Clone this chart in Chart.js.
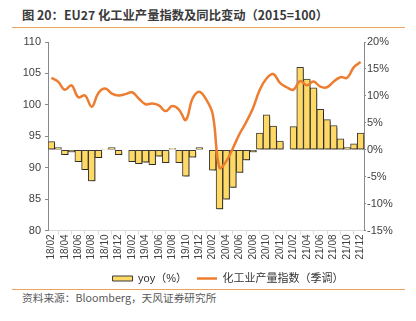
<!DOCTYPE html>
<html>
<head>
<meta charset="utf-8">
<script src="https://cdn.jsdelivr.net/npm/chart.js@4"></script>
<style>
  html, body { margin: 0; padding: 0; background: #fff; }
  body { width: 416px; height: 321px; position: relative; overflow: hidden; font-family: 'Liberation Sans', 'Noto Sans CJK SC', sans-serif; }
  #title { position: absolute; left: 22px; top: 6px; font-size: 12.3px; font-weight: bold; color: #3a3a3a; white-space: nowrap; font-family: 'Noto Sans CJK SC', sans-serif; }
  .rule { position: absolute; left: 12px; width: 393px; height: 1px; background: #eda35e; }
  #source { position: absolute; left: 22px; top: 290px; font-size: 10.7px; color: #595959; white-space: nowrap; font-family: 'Noto Sans CJK SC', sans-serif; }
  #wrap { position: absolute; left: 0; top: 30px; width: 416px; height: 280px; }
</style>
</head>
<body>
<div id="title">图 20：EU27 化工业产量指数及同比变动（2015=100）</div>
<div class="rule" style="top:27px"></div>
<div class="rule" style="top:289px"></div>
<div id="source">资料来源：Bloomberg，天风证券研究所</div>
<div id="wrap"><canvas id="chart"></canvas></div>
<script>
// months shown on the x axis (Jan values of yoy are blank in the source)
const months = [
  '18/02','18/03','18/04','18/05','18/06','18/07','18/08','18/09','18/10','18/11','18/12',
  '19/01','19/02','19/03','19/04','19/05','19/06','19/07','19/08','19/09','19/10','19/11','19/12',
  '20/01','20/02','20/03','20/04','20/05','20/06','20/07','20/08','20/09','20/10','20/11','20/12',
  '21/01','21/02','21/03','21/04','21/05','21/06','21/07','21/08','21/09','21/10','21/11','21/12'
];

// yoy (%), right axis
const yoy = [
  1.5, 0.4, -0.9, -0.4, -2.2, -3.7, -5.8, -1.5, 0.1, 0.4, -0.9,
  null, -2.2, -2.6, -2.3, -2.8, -1.2, -2.4, 0.2, -2.4, -4.9, -1.4, 0.4,
  null, -3.8, -11.0, -9.2, -7.0, -4.2, -1.9, -0.4, 3.1, 6.5, 4.4, 1.6,
  null, 4.3, 15.3, 13.1, 11.5, 7.5, 5.6, 4.5, 2.0, 0.4, 1.1, 3.1
];

// chemical production index, seasonally adjusted (left axis)
const prodIndex = [
  104.3, 103.7, 102.4, 103.1, 101.2, 101.5, 99.7, 101.9, 102.6, 101.8, 101.5,
  101.7, 102.0, 101.0, 100.1, 100.2, 99.9, 99.0, 99.8, 99.2, 97.6, 101.0, 102.1,
  100.9, 98.5, 90.0, 91.0, 93.1, 95.4, 97.3, 99.5, 102.4, 104.2, 104.9, 103.5,
  102.8, 102.4, 103.8, 103.1, 103.7, 102.9, 102.8, 103.7, 104.4, 104.3, 106.0, 106.8
];

const leftTicks = [80, 85, 90, 95, 100, 105, 110];
const rightTicks = [-15, -10, -5, 0, 5, 10, 15, 20];

const axisFont = { family: "'Liberation Sans', Arial, sans-serif", size: 11 };

// soft drop shadow under the bars, like the excel original
const barShadow = {
  id: 'barShadow',
  beforeDatasetDraw(chart, args) {
    if (args.index !== 0) return;
    const ctx = chart.ctx;
    ctx.save();
    ctx.shadowColor = 'rgba(0,0,0,0.35)';
    ctx.shadowOffsetX = 1.5;
    ctx.shadowOffsetY = 1.5;
    ctx.shadowBlur = 1;
  },
  afterDatasetDraw(chart, args) {
    if (args.index !== 0) return;
    chart.ctx.restore();
  }
};

// the legend in the original sits a bit right of centre
const legendNudge = {
  id: 'legendNudge',
  afterLayout(chart) {
    chart.legend.left += 20;
    chart.legend.right += 20;
  }
};

const ctx = document.getElementById('chart').getContext('2d');
new Chart(ctx, {
  type: 'bar',
  data: {
    labels: months,
    datasets: [{
      type: 'bar',
      label: 'yoy（%）',
      data: yoy,
      yAxisID: 'y1',
      backgroundColor: '#ffd966',
      borderColor: '#3a3a3a',
      borderWidth: 1,
      borderSkipped: false,
      barPercentage: 1,
      categoryPercentage: 1,
      pointStyle: 'rect',
      order: 1
    }, {
      type: 'line',
      label: '化工业产量指数（季调）',
      data: prodIndex,
      yAxisID: 'y',
      borderColor: '#ed7d31',
      backgroundColor: '#ed7d31',
      borderWidth: 2.5,
      pointRadius: 0,
      pointStyle: 'line',
      tension: 0.4,
      order: 0
    }]
  },
  options: {
    responsive: true,
    maintainAspectRatio: false,
    animation: false,
    layout: { padding: { top: 12, bottom: 16, left: 0, right: 0 } },
    plugins: {
      tooltip: { enabled: false },
      legend: {
        position: 'bottom',
        labels: {
          usePointStyle: true,
          pointStyleWidth: 20,
          boxHeight: 5,
          padding: 10,
          color: '#333',
          font: { family: "'Liberation Sans', 'Noto Sans CJK SC', sans-serif", size: 11 },
          sort: (a, b) => a.datasetIndex - b.datasetIndex
        }
      }
    },
    scales: {
      x: {
        grid: { drawOnChartArea: false, color: '#d9d9d9', tickLength: 4, offset: true },
        border: { color: '#d9d9d9' },
        ticks: {
          autoSkip: false,
          maxRotation: 90,
          minRotation: 90,
          padding: 0,
          color: '#404040',
          font: { family: axisFont.family, size: 10 },
          callback: function (val, i) { return i % 2 === 0 ? months[i] : null; }
        },
        afterFit: s => { s.height = 32.5; }
      },
      y: {
        position: 'left',
        min: 80,
        max: 110,
        afterBuildTicks: s => { s.ticks = leftTicks.map(v => ({ value: v })); },
        grid: { drawOnChartArea: false, color: '#898989', tickLength: 3 },
        border: { color: '#898989' },
        ticks: { color: '#404040', font: axisFont, padding: 4 },
        afterFit: s => { s.width = 48; }
      },
      y1: {
        position: 'right',
        min: -15,
        max: 20,
        afterBuildTicks: s => { s.ticks = rightTicks.map(v => ({ value: v })); },
        grid: { drawOnChartArea: false, color: '#898989', tickLength: 2 },
        border: { color: '#898989' },
        ticks: { color: '#404040', font: axisFont, padding: 1, callback: v => v + '%' },
        afterFit: s => { s.width = 52; }
      }
    }
  },
  plugins: [barShadow, legendNudge]
});
</script>
</body>
</html>
